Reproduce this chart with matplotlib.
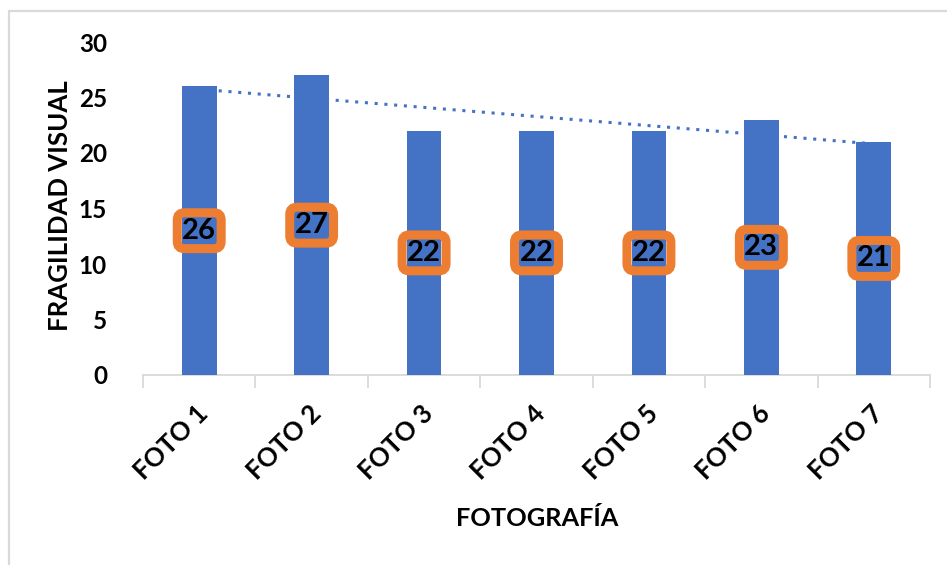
import numpy as np
import matplotlib.pyplot as plt
import matplotlib.transforms as mtransforms
from matplotlib.patches import Rectangle

plt.rcParams['font.family'] = ['Lato', 'DejaVu Sans']
plt.rcParams['font.weight'] = 'bold'

# datos
fotos = ['FOTO 1', 'FOTO 2', 'FOTO 3', 'FOTO 4', 'FOTO 5', 'FOTO 6', 'FOTO 7']
fragilidad = [26, 27, 22, 22, 22, 23, 21]

azul = '#4472C4'
naranja = '#ED7D31'

fig = plt.figure(figsize=(9.47, 5.65), dpi=100)
ax = fig.add_axes([143 / 947, 1 - 375 / 565, 787 / 947, 333 / 565])

x = np.arange(len(fotos))
ax.bar(x, fragilidad, width=0.31, color=azul, zorder=3)

# linea de tendencia
a, b = np.polyfit(x, fragilidad, 1)
ax.plot(x, a * x + b, linestyle=(0, (1, 2.2)), color=azul, lw=2.2, zorder=2)

# etiquetas de datos
for xi, v in zip(x, fragilidad):
    ax.text(xi, v / 2, str(v), ha='center', va='center', fontsize=21,
            fontweight='bold', color='black', zorder=4,
            bbox=dict(boxstyle='round,pad=0.17,rounding_size=0.25',
                      fc='none', ec=naranja, lw=6.5))

ax.set_xlim(-0.5, len(fotos) - 0.5)
ax.set_ylim(0, 30)
ax.set_yticks(range(0, 31, 5))
ax.tick_params(axis='y', length=0, labelsize=17.5, pad=26)
for t in ax.get_yticklabels():
    t.set_fontweight('bold')

ax.set_xticks(x)
ax.set_xticklabels(fotos, rotation=45, ha='right', va='center',
                   rotation_mode='anchor', fontsize=18.5, fontweight='bold')
ax.tick_params(axis='x', length=0, pad=25)
desplaz = mtransforms.ScaledTranslation(5 / 100, 0, fig.dpi_scale_trans)
for t in ax.get_xticklabels():
    t.set_transform(t.get_transform() + desplaz)
ax.set_xticks(np.arange(-0.5, len(fotos), 1), minor=True)
ax.tick_params(axis='x', which='minor', length=9, color='#d9d9d9', width=1.3)

for s in ['top', 'right', 'left']:
    ax.spines[s].set_visible(False)
ax.spines['bottom'].set_color('#d9d9d9')
ax.spines['bottom'].set_linewidth(1.3)

ax.set_ylabel('FRAGILIDAD VISUAL', fontsize=18.5, fontweight='bold', va='center')
ax.yaxis.set_label_coords((60 - 143) / 787, 0.5 - (206 - 208.5) / 333)
ax.set_xlabel('FOTOGRAFÍA', fontsize=18.3, fontweight='bold', va='center')
ax.xaxis.set_label_coords((537 - 143) / 787, -(518 - 375) / 333)

# marco del grafico
fig.patches.append(Rectangle((9 / 947, -0.1), 1.2, 1 - 11 / 565 + 0.1,
                             transform=fig.transFigure, fill=False,
                             ec='#d9d9d9', lw=1.6))

fig.savefig('out.png', dpi=100)
